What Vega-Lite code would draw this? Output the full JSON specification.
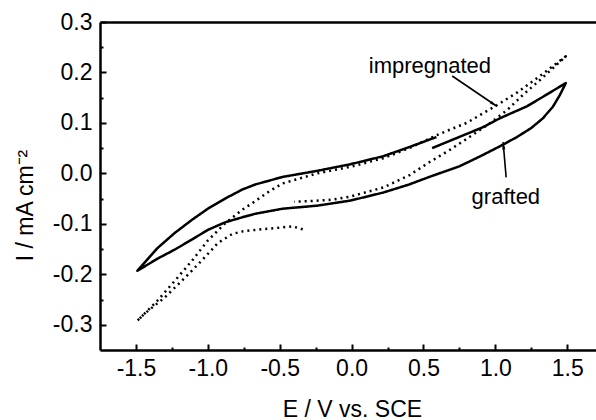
{
  "$schema": "https://vega.github.io/schema/vega-lite/v6.json",
  "width": 496,
  "height": 328,
  "autosize": {"type": "none"},
  "padding": {"left": 100, "top": 22, "right": 0, "bottom": 70},
  "background": "white",
  "config": {
    "view": {"stroke": null},
    "font": "Liberation Sans",
    "axis": {
      "labelFont": "Liberation Sans",
      "titleFont": "Liberation Sans",
      "labelColor": "black",
      "titleColor": "black",
      "domainColor": "black",
      "tickColor": "black",
      "grid": false,
      "labelFontSize": 23,
      "titleFontSize": 23,
      "titleFontWeight": "normal",
      "domainWidth": 2.5,
      "tickWidth": 2
    }
  },
  "datasets": {
    "curves": [
      {"series": "grafted", "idx": 1, "E": 0.56, "I": 0.050},
      {"series": "grafted", "idx": 2, "E": 0.73, "I": 0.070},
      {"series": "grafted", "idx": 3, "E": 0.91, "I": 0.091},
      {"series": "grafted", "idx": 4, "E": 1.03, "I": 0.109},
      {"series": "grafted", "idx": 5, "E": 1.22, "I": 0.133},
      {"series": "grafted", "idx": 6, "E": 1.35, "I": 0.155},
      {"series": "grafted", "idx": 7, "E": 1.49, "I": 0.179},
      {"series": "grafted", "idx": 8, "E": 1.45, "I": 0.156},
      {"series": "grafted", "idx": 9, "E": 1.40, "I": 0.132},
      {"series": "grafted", "idx": 10, "E": 1.33, "I": 0.109},
      {"series": "grafted", "idx": 11, "E": 1.25, "I": 0.090},
      {"series": "grafted", "idx": 12, "E": 1.15, "I": 0.072},
      {"series": "grafted", "idx": 13, "E": 1.04, "I": 0.055},
      {"series": "grafted", "idx": 14, "E": 0.91, "I": 0.036},
      {"series": "grafted", "idx": 15, "E": 0.75, "I": 0.014},
      {"series": "grafted", "idx": 16, "E": 0.56, "I": -0.005},
      {"series": "grafted", "idx": 17, "E": 0.40, "I": -0.022},
      {"series": "grafted", "idx": 18, "E": 0.22, "I": -0.038},
      {"series": "grafted", "idx": 19, "E": -0.01, "I": -0.054},
      {"series": "grafted", "idx": 20, "E": -0.24, "I": -0.064},
      {"series": "grafted", "idx": 21, "E": -0.48, "I": -0.070},
      {"series": "grafted", "idx": 22, "E": -0.67, "I": -0.080},
      {"series": "grafted", "idx": 23, "E": -0.76, "I": -0.087},
      {"series": "grafted", "idx": 24, "E": -0.88, "I": -0.097},
      {"series": "grafted", "idx": 25, "E": -1.00, "I": -0.112},
      {"series": "grafted", "idx": 26, "E": -1.11, "I": -0.131},
      {"series": "grafted", "idx": 27, "E": -1.23, "I": -0.151},
      {"series": "grafted", "idx": 28, "E": -1.35, "I": -0.169},
      {"series": "grafted", "idx": 29, "E": -1.49, "I": -0.193},
      {"series": "grafted", "idx": 30, "E": -1.35, "I": -0.148},
      {"series": "grafted", "idx": 31, "E": -1.23, "I": -0.118},
      {"series": "grafted", "idx": 32, "E": -1.11, "I": -0.092},
      {"series": "grafted", "idx": 33, "E": -1.00, "I": -0.070},
      {"series": "grafted", "idx": 34, "E": -0.88, "I": -0.050},
      {"series": "grafted", "idx": 35, "E": -0.76, "I": -0.032},
      {"series": "grafted", "idx": 36, "E": -0.67, "I": -0.022},
      {"series": "grafted", "idx": 37, "E": -0.48, "I": -0.007},
      {"series": "grafted", "idx": 38, "E": -0.24, "I": 0.005},
      {"series": "grafted", "idx": 39, "E": -0.01, "I": 0.018},
      {"series": "grafted", "idx": 40, "E": 0.22, "I": 0.034},
      {"series": "grafted", "idx": 41, "E": 0.40, "I": 0.052},
      {"series": "grafted", "idx": 42, "E": 0.59, "I": 0.072},
      {"series": "impregnated", "idx": 1, "E": -0.34, "I": -0.111},
      {"series": "impregnated", "idx": 2, "E": -0.41, "I": -0.105},
      {"series": "impregnated", "idx": 3, "E": -0.48, "I": -0.107},
      {"series": "impregnated", "idx": 4, "E": -0.67, "I": -0.112},
      {"series": "impregnated", "idx": 5, "E": -0.76, "I": -0.115},
      {"series": "impregnated", "idx": 6, "E": -0.83, "I": -0.120},
      {"series": "impregnated", "idx": 7, "E": -0.93, "I": -0.138},
      {"series": "impregnated", "idx": 8, "E": -1.04, "I": -0.172},
      {"series": "impregnated", "idx": 9, "E": -1.16, "I": -0.207},
      {"series": "impregnated", "idx": 10, "E": -1.30, "I": -0.246},
      {"series": "impregnated", "idx": 11, "E": -1.44, "I": -0.278},
      {"series": "impregnated", "idx": 12, "E": -1.49, "I": -0.292},
      {"series": "impregnated", "idx": 13, "E": -1.35, "I": -0.252},
      {"series": "impregnated", "idx": 14, "E": -1.23, "I": -0.213},
      {"series": "impregnated", "idx": 15, "E": -1.11, "I": -0.173},
      {"series": "impregnated", "idx": 16, "E": -1.00, "I": -0.133},
      {"series": "impregnated", "idx": 17, "E": -0.88, "I": -0.099},
      {"series": "impregnated", "idx": 18, "E": -0.76, "I": -0.072},
      {"series": "impregnated", "idx": 19, "E": -0.67, "I": -0.055},
      {"series": "impregnated", "idx": 20, "E": -0.57, "I": -0.035},
      {"series": "impregnated", "idx": 21, "E": -0.48, "I": -0.020},
      {"series": "impregnated", "idx": 22, "E": -0.24, "I": 0.000},
      {"series": "impregnated", "idx": 23, "E": -0.01, "I": 0.013},
      {"series": "impregnated", "idx": 24, "E": 0.22, "I": 0.030},
      {"series": "impregnated", "idx": 25, "E": 0.40, "I": 0.050},
      {"series": "impregnated", "idx": 26, "E": 0.61, "I": 0.078},
      {"series": "impregnated", "idx": 27, "E": 0.80, "I": 0.100},
      {"series": "impregnated", "idx": 28, "E": 1.01, "I": 0.135},
      {"series": "impregnated", "idx": 29, "E": 1.15, "I": 0.160},
      {"series": "impregnated", "idx": 30, "E": 1.31, "I": 0.193},
      {"series": "impregnated", "idx": 31, "E": 1.49, "I": 0.232},
      {"series": "impregnated", "idx": 32, "E": 1.41, "I": 0.211},
      {"series": "impregnated", "idx": 33, "E": 1.31, "I": 0.185},
      {"series": "impregnated", "idx": 34, "E": 1.19, "I": 0.155},
      {"series": "impregnated", "idx": 35, "E": 1.08, "I": 0.125},
      {"series": "impregnated", "idx": 36, "E": 0.96, "I": 0.099},
      {"series": "impregnated", "idx": 37, "E": 0.82, "I": 0.072},
      {"series": "impregnated", "idx": 38, "E": 0.68, "I": 0.046},
      {"series": "impregnated", "idx": 39, "E": 0.54, "I": 0.022},
      {"series": "impregnated", "idx": 40, "E": 0.40, "I": -0.004},
      {"series": "impregnated", "idx": 41, "E": 0.22, "I": -0.028},
      {"series": "impregnated", "idx": 42, "E": -0.01, "I": -0.046},
      {"series": "impregnated", "idx": 43, "E": -0.13, "I": -0.052},
      {"series": "impregnated", "idx": 44, "E": -0.29, "I": -0.055},
      {"series": "impregnated", "idx": 45, "E": -0.40, "I": -0.056}
    ],
    "arrows": [
      {"arrow": "impregnated", "part": "tail", "E": 0.70, "I": 0.193},
      {"arrow": "impregnated", "part": "head", "E": 1.01, "I": 0.133},
      {"arrow": "grafted", "part": "tail", "E": 1.075, "I": -0.008},
      {"arrow": "grafted", "part": "head", "E": 1.054, "I": 0.062}
    ],
    "labels": [
      {"label": "impregnated", "E": 0.545, "I": 0.199},
      {"label": "grafted", "E": 1.073, "I": -0.061}
    ]
  },
  "layer": [
    {
      "data": {"name": "curves"},
      "mark": {"type": "line", "strokeWidth": 2.5, "strokeCap": "butt", "strokeJoin": "round", "color": "black"},
      "encoding": {
        "x": {
          "field": "E", "type": "quantitative",
          "scale": {"domain": [-1.75, 1.7], "nice": false, "zero": false},
          "axis": {
            "orient": "bottom",
            "values": [-1.5, -1.0, -0.5, 0.0, 0.5, 1.0, 1.5],
            "labelExpr": "replace(format(datum.value, '.1f'), '\u2212', '-')",
            "ticks": false,
            "labelPadding": 7,
            "labelFlush": false,
            "title": "E / V vs. SCE",
            "titleX": 252,
            "titleY": 66,
            "titleBaseline": "alphabetic",
            "titleAnchor": "middle"
          }
        },
        "y": {
          "field": "I", "type": "quantitative",
          "scale": {"domain": [-0.35, 0.3], "nice": false, "zero": false},
          "axis": {
            "orient": "left",
            "values": [-0.3, -0.2, -0.1, 0.0, 0.1, 0.2, 0.3],
            "labelExpr": "replace(format(datum.value, '.1f'), '\u2212', '-')",
            "ticks": false,
            "labelPadding": 8,
            "labelFlush": false,
            "title": "I / mA cm\u207B\u00B2",
            "titleX": -75,
            "titleY": 183,
            "titleAngle": -90,
            "titleBaseline": "middle",
            "titleAnchor": "middle"
          }
        },
        "strokeDash": {
          "field": "series", "type": "nominal",
          "scale": {"domain": ["grafted", "impregnated"], "range": [[1, 0], [2, 4]]},
          "legend": null
        },
        "order": {"field": "idx", "type": "quantitative"}
      }
    },
    {
      "data": {"name": "arrows"},
      "mark": {"type": "line", "strokeWidth": 1.6, "color": "black"},
      "encoding": {
        "x": {
          "field": "E", "type": "quantitative",
          "axis": {
            "orient": "bottom",
            "offset": -6,
            "values": [-1.5, -1.0, -0.5, 0.0, 0.5, 1.0, 1.5],
            "tickSize": 6,
            "labels": false,
            "domain": false,
            "title": null
          }
        },
        "y": {
          "field": "I", "type": "quantitative",
          "axis": {
            "orient": "left",
            "offset": -6,
            "values": [-0.3, -0.2, -0.1, 0.0, 0.1, 0.2, 0.3],
            "tickSize": 6,
            "labels": false,
            "domain": false,
            "title": null
          }
        },
        "detail": {"field": "arrow", "type": "nominal"}
      }
    },
    {
      "data": {"name": "labels"},
      "mark": {"type": "text", "fontSize": 22, "font": "Liberation Sans", "align": "center", "baseline": "alphabetic", "color": "black"},
      "encoding": {
        "x": {
          "field": "E", "type": "quantitative",
          "axis": {
            "orient": "bottom",
            "offset": -3,
            "values": [-1.25, -0.75, -0.25, 0.25, 0.75, 1.25],
            "tickSize": 3,
            "labels": false,
            "domain": false,
            "title": null
          }
        },
        "y": {
          "field": "I", "type": "quantitative",
          "axis": {
            "orient": "left",
            "offset": -3,
            "values": [-0.25, -0.15, -0.05, 0.05, 0.15, 0.25],
            "tickSize": 3,
            "labels": false,
            "domain": false,
            "title": null
          }
        },
        "text": {"field": "label", "type": "nominal"}
      }
    },
    {
      "data": {"name": "arrows"},
      "transform": [{"filter": "datum.arrow == 'impregnated' && datum.part == 'head'"}],
      "mark": {"type": "point", "shape": "M0,0L0.4,1.8L-0.4,1.8Z", "filled": true, "size": 64, "angle": 124, "color": "black", "opacity": 1},
      "encoding": {
        "x": {
          "field": "E", "type": "quantitative",
          "axis": {"orient": "top", "ticks": false, "labels": false, "domain": true, "title": null}
        },
        "y": {"field": "I", "type": "quantitative", "axis": null}
      }
    },
    {
      "data": {"name": "arrows"},
      "transform": [{"filter": "datum.arrow == 'grafted' && datum.part == 'head'"}],
      "mark": {"type": "point", "shape": "M0,0L0.4,1.8L-0.4,1.8Z", "filled": true, "size": 64, "angle": 355, "color": "black", "opacity": 1},
      "encoding": {
        "x": {"field": "E", "type": "quantitative", "axis": null},
        "y": {"field": "I", "type": "quantitative", "axis": null}
      }
    }
  ],
  "resolve": {"axis": {"x": "independent", "y": "independent"}}
}
